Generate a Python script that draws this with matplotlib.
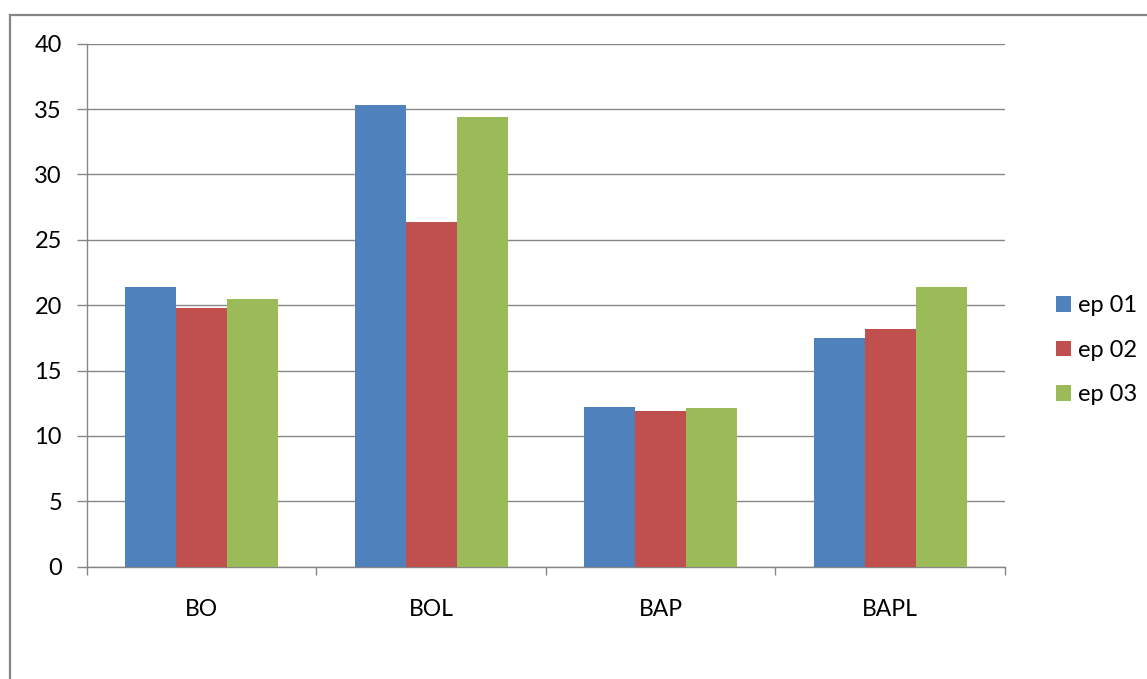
import numpy as np
import matplotlib.pyplot as plt
from matplotlib.lines import Line2D
from matplotlib.patches import Patch

# values per category for each episode
categories = ["BO", "BOL", "BAP", "BAPL"]
ep01 = [21.4, 35.3, 12.2, 17.5]
ep02 = [19.8, 26.4, 11.9, 18.2]
ep03 = [20.5, 34.4, 12.1, 21.4]
series_names = ["ep 01", "ep 02", "ep 03"]
y_ticks = [0, 5, 10, 15, 20, 25, 30, 35, 40]

colors = ["#4F81BD", "#C0504D", "#9BBB59"]
grey = "#868686"

plt.rcParams['font.family'] = ['Lato', 'DejaVu Sans']

fig = plt.figure(figsize=(11.47, 6.79), dpi=100)
ax = fig.add_axes([0.0758, 0.1654, 0.8004, 0.7702])

x = np.arange(len(categories))
width = 0.222
for i, vals in enumerate([ep01, ep02, ep03]):
    ax.bar(x + (i - 1) * width, vals, width, color=colors[i],
           label=series_names[i], zorder=3)

ax.set_xlim(-0.5, len(categories) - 0.5)
ax.set_ylim(0, 40)
ax.set_yticks(y_ticks)
ax.grid(axis="y", color=grey, linewidth=1.0, zorder=0)

# category boundaries get the tick marks, labels sit at the centres
ax.set_xticks(np.arange(len(categories) + 1) - 0.5)
ax.set_xticklabels([])
ax.set_xticks(x, minor=True)
ax.set_xticklabels(categories, minor=True)
ax.tick_params(axis="x", which="major", length=6, width=1.0, color=grey)
ax.tick_params(axis="x", which="minor", length=0, pad=23, labelsize=16.5)
ax.tick_params(axis="y", length=7, width=1.0, color=grey, pad=11, labelsize=17)

for side in ["top", "right"]:
    ax.spines[side].set_visible(False)
for side in ["left", "bottom"]:
    ax.spines[side].set_color(grey)
    ax.spines[side].set_linewidth(1.0)

handles = [Patch(facecolor=c) for c in colors]
ax.legend(handles, series_names, loc="center left",
          bbox_to_anchor=(0.910, 0.484), bbox_transform=fig.transFigure,
          frameon=False, fontsize=17, handlelength=0.65, handleheight=0.65,
          handletextpad=0.3, labelspacing=1.0, borderpad=0)

# outer chart border
fig.add_artist(Line2D([10 / 1147, 10 / 1147], [0, 1 - 15 / 679],
                      transform=fig.transFigure, color=grey, linewidth=1.6))
fig.add_artist(Line2D([10 / 1147, 1], [1 - 15 / 679, 1 - 15 / 679],
                      transform=fig.transFigure, color=grey, linewidth=1.6))

fig.savefig("out.png", dpi=100)
